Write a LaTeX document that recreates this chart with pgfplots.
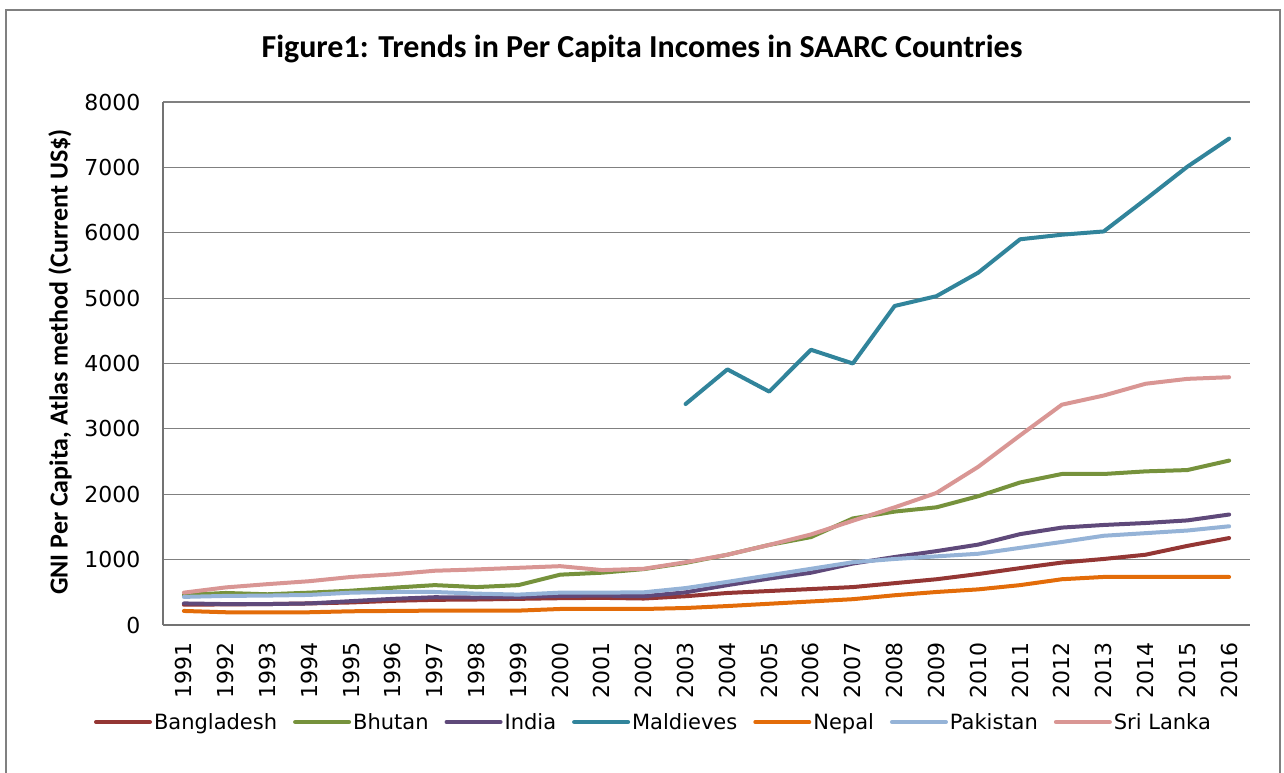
\documentclass[border=0pt]{standalone}
\usepackage{pgfplots}
\pgfplotsset{compat=1.18}
\usepackage{pgfplotstable}
\usepackage{fontspec}
\setmainfont{Carlito}
\newfontfamily\tickfont{DejaVu Sans}
\definecolor{cBan}{HTML}{943634}
\definecolor{cBhu}{HTML}{76923C}
\definecolor{cInd}{HTML}{5F497A}
\definecolor{cMal}{HTML}{31849B}
\definecolor{cNep}{HTML}{E36C09}
\definecolor{cPak}{HTML}{95B3D7}
\definecolor{cSri}{HTML}{D99694}
\pgfplotstableread{
year Ban Bhu Ind Nep Pak Sri
1991 310 460 330 215 430 495
1992 315 490 320 195 445 575
1993 320 470 320 195 450 625
1994 330 495 330 195 460 670
1995 345 525 365 210 495 735
1996 370 570 400 215 505 775
1997 385 610 425 220 505 830
1998 390 580 420 220 480 850
1999 400 610 430 220 465 875
2000 410 770 445 245 495 900
2001 415 800 450 245 495 840
2002 405 855 440 245 500 860
2003 440 950 500 260 565 960
2004 490 1075 610 290 660 1075
2005 520 1225 710 325 760 1225
2006 550 1345 800 360 860 1385
2007 580 1630 940 395 960 1595
2008 640 1735 1040 455 1010 1800
2009 700 1800 1130 505 1050 2020
2010 780 1970 1230 545 1090 2420
2011 870 2180 1390 610 1180 2900
2012 955 2310 1490 700 1270 3370
2013 1010 2310 1530 735 1365 3510
2014 1075 2350 1560 735 1405 3690
2015 1210 2370 1600 735 1445 3765
2016 1330 2515 1690 735 1510 3790
}\datatable
\pgfplotstableread{
year Mal
2003 3380
2004 3910
2005 3570
2006 4210
2007 4000
2008 4880
2009 5030
2010 5390
2011 5900
2012 5970
2013 6020
2014 6510
2015 7010
2016 7440
}\maltable
\begin{document}
\begin{tikzpicture}[x=1pt,y=1pt]
\path[use as bounding box] (0pt,0pt) rectangle (1284pt,772pt);
\draw[black!50, line width=1.5pt] (6pt,-5pt) -- (6pt,762pt) -- (1280pt,762pt) -- (1280pt,-5pt);
\node[font=\bfseries\fontsize{32}{38}\selectfont] at (642pt,723pt) {Figure1: Trends in Per Capita Incomes in SAARC Countries};
\node[rotate=90, anchor=center, font=\bfseries\fontsize{26}{30}\selectfont] at (60pt,410pt) {GNI Per Capita, Atlas method (Current US\$)};
\begin{axis}[
  at={(163pt,147pt)}, anchor=south west,
  width=1087pt, height=523pt, scale only axis,
  xmin=1990.5, xmax=2016.5, ymin=0, ymax=8000,
  xtick={1991,...,2016}, ytick={0,1000,...,8000},
  axis lines*=left,
  axis line style={black!55, line width=1.2pt},
  ymajorgrids, grid style={black!50, line width=1.2pt},
  major tick length=0pt,
  /pgf/number format/assume math mode=true,
  /pgf/number format/set thousands separator={},
  xticklabel style={rotate=90, anchor=east, font=\tickfont\fontsize{22}{26}\selectfont},
  yticklabel style={font=\tickfont\fontsize{22}{26}\selectfont},
  xticklabel shift=14pt,
  yticklabel shift=19pt,
  legend columns=-1,
  legend style={at={(axis description cs:0.4512,-0.1855)}, anchor=center, draw=none, fill=none,
    font=\tickfont\fontsize{21}{25}\selectfont,
    /tikz/every even column/.append style={column sep=14pt}},
  legend image code/.code={\draw[#1] (0pt,0pt) -- (54pt,0pt);},
  every axis plot/.append style={line width=4pt, line join=round, line cap=round},
]
\addplot[cBan] table[x=year,y=Ban] {\datatable};
\addlegendentry{Bangladesh}
\addplot[cBhu] table[x=year,y=Bhu] {\datatable};
\addlegendentry{Bhutan}
\addplot[cInd] table[x=year,y=Ind] {\datatable};
\addlegendentry{India}
\addplot[cMal] table[x=year,y=Mal] {\maltable};
\addlegendentry{Maldieves}
\addplot[cNep] table[x=year,y=Nep] {\datatable};
\addlegendentry{Nepal}
\addplot[cPak] table[x=year,y=Pak] {\datatable};
\addlegendentry{Pakistan}
\addplot[cSri] table[x=year,y=Sri] {\datatable};
\addlegendentry{Sri Lanka}
\end{axis}
\end{tikzpicture}
\end{document}
